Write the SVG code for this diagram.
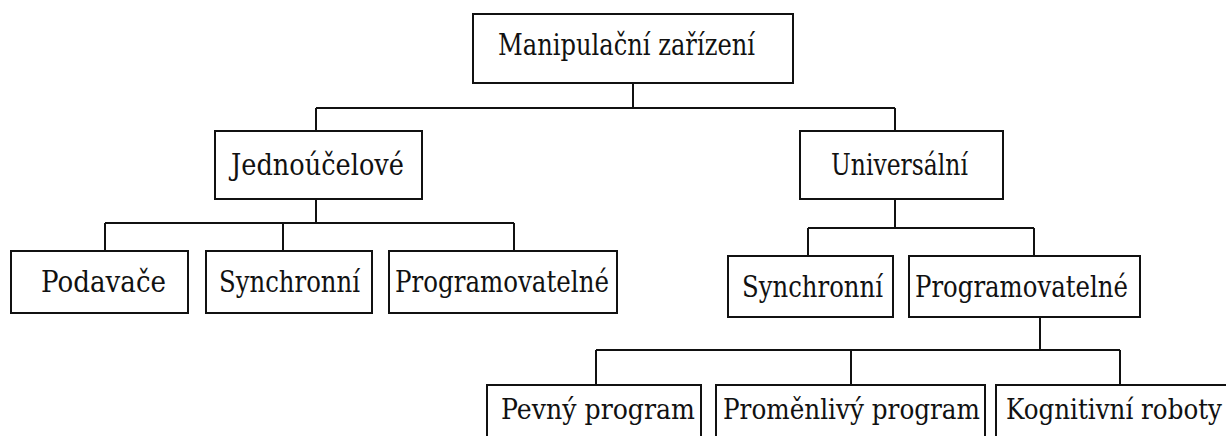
<svg xmlns="http://www.w3.org/2000/svg" width="1226" height="436" viewBox="0 0 1226 436">
<style>
.box{fill:#fff;stroke:#111;stroke-width:2}
.ln{fill:none;stroke:#111;stroke-width:2}
.t{font-size:30px;fill:#111}
.s{font-size:27px;fill:#111}
</style>
<rect width="1226" height="436" fill="#fff"/>
<g id="connectors" class="ln">
<path d="M633 83V108M316 108H895M316 108V131M895 108V131"/>
<path d="M316 199V223M105 223H514M105 223V251M283 223V251M514 223V251"/>
<path d="M895 199V228M808 228H1034M808 228V256M1034 228V256"/>
<path d="M1040 317V350M596 350H1120M596 350V385M851 350V385M1120 350V385"/>
</g>
<g font-family="'DejaVu Serif', 'Liberation Serif', serif">
<g id="n-root"><rect class="box" x="473" y="14" width="320" height="69"/><text class="t" x="498" y="55" textLength="257" lengthAdjust="spacingAndGlyphs">Manipulační zařízení</text></g>
<g id="n-jedno"><rect class="box" x="215" y="131" width="207" height="68"/><text class="t" x="231" y="175" textLength="173" lengthAdjust="spacingAndGlyphs">Jednoúčelové</text></g>
<g id="n-univ"><rect class="box" x="800" y="131" width="203" height="68"/><text class="t" x="831" y="175" textLength="137" lengthAdjust="spacingAndGlyphs">Universální</text></g>
<g id="n-podavace"><rect class="box" x="11" y="251" width="177" height="62"/><text class="t" x="41" y="292" textLength="125" lengthAdjust="spacingAndGlyphs">Podavače</text></g>
<g id="n-sync1"><rect class="box" x="206" y="251" width="166" height="62"/><text class="t" x="219" y="292" textLength="141" lengthAdjust="spacingAndGlyphs">Synchronní</text></g>
<g id="n-prog1"><rect class="box" x="389" y="251" width="228" height="62"/><text class="t" x="395" y="292" textLength="214" lengthAdjust="spacingAndGlyphs">Programovatelné</text></g>
<g id="n-sync2"><rect class="box" x="728" y="256" width="165" height="61"/><text class="t" x="742" y="297" textLength="141" lengthAdjust="spacingAndGlyphs">Synchronní</text></g>
<g id="n-prog2"><rect class="box" x="909" y="256" width="231" height="61"/><text class="t" x="915" y="297" textLength="213" lengthAdjust="spacingAndGlyphs">Programovatelné</text></g>
<g id="n-pevny"><rect class="box" x="487" y="385" width="214" height="70"/><text class="s" x="501" y="419" textLength="194" lengthAdjust="spacingAndGlyphs">Pevný program</text></g>
<g id="n-promenlivy"><rect class="box" x="716" y="385" width="269" height="70"/><text class="s" x="723" y="419" textLength="257" lengthAdjust="spacingAndGlyphs">Proměnlivý program</text></g>
<g id="n-kognitivni"><rect class="box" x="996" y="385" width="250" height="70"/><text class="s" x="1006" y="419" textLength="216" lengthAdjust="spacingAndGlyphs">Kognitivní roboty</text></g>
</g>
</svg>
